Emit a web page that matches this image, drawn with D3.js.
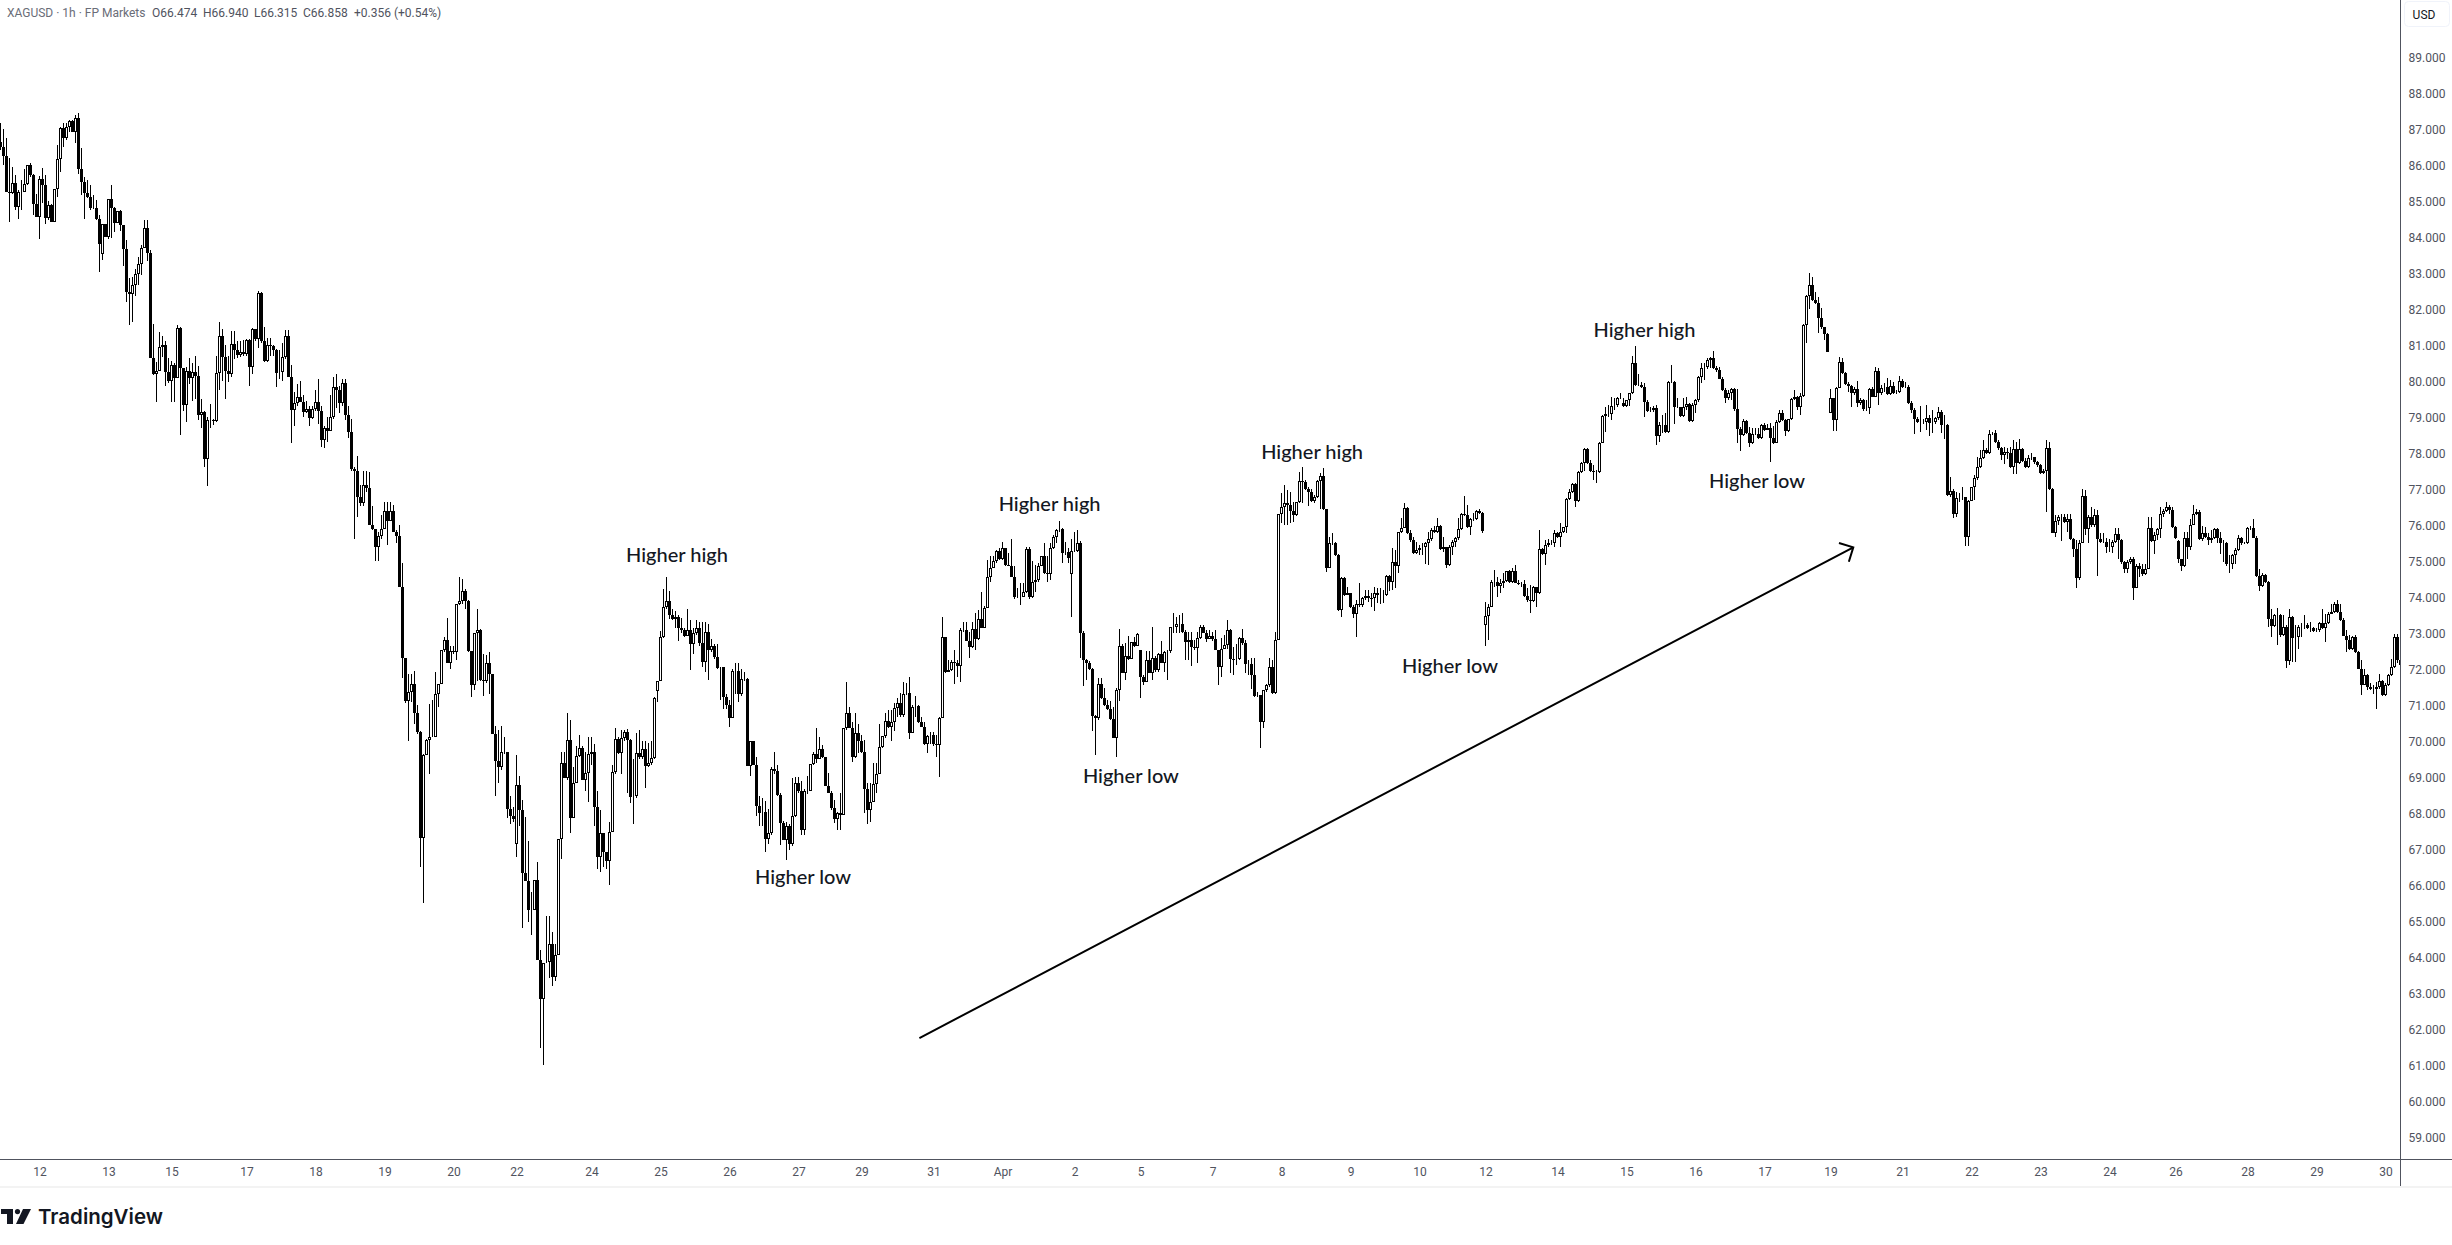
<!DOCTYPE html>
<html>
<head>
<meta charset="utf-8">
<script src="https://cdn.jsdelivr.net/npm/d3@7/dist/d3.min.js"></script>
<style>
html,body{margin:0;padding:0;background:#fff;overflow:hidden}
svg{display:block}
</style>
</head>
<body>
<svg id="chart" width="2452" height="1245"></svg>
<script>
const closes = [
86.5,86.23,85.25,85.2,85.5,84.82,85.25,85.25,85.46,85.98,
85.72,84.9,84.56,85.6,85.44,84.51,84.87,84.4,85.32,86.15,
87.01,86.74,87.06,87.2,86.92,87.29,85.88,85.53,85.21,85.1,
84.79,84.79,84.48,83.8,84.35,84.0,85.04,84.79,84.39,84.7,
84.33,83.65,82.45,82.4,82.66,82.97,83.24,83.68,84.24,83.54,
80.62,80.19,80.28,80.93,80.99,80.23,79.98,80.44,80.07,81.46,
80.35,79.33,80.28,80.07,80.25,80.12,79.05,79.14,77.82,78.91,
78.91,78.89,80.2,81.23,80.67,80.28,80.19,81.01,80.84,80.72,
80.8,80.74,81.12,80.37,81.43,81.15,82.43,81.09,80.56,80.98,
80.95,80.84,80.2,80.25,80.65,81.24,80.11,79.19,79.37,79.54,
79.42,79.14,79.2,78.96,79.2,79.42,79.17,78.36,78.68,78.6,
78.98,79.82,79.74,79.37,79.93,79.05,78.57,77.54,77.48,76.78,
76.61,77.1,77.01,75.99,75.87,75.37,75.69,75.87,76.39,76.11,
76.39,75.81,75.69,74.28,72.29,71.11,71.34,71.57,70.77,70.23,
67.3,69.61,70.02,70.1,70.1,71.29,71.58,72.52,72.8,72.16,
72.49,72.45,73.79,73.89,74.17,73.89,72.49,71.55,72.99,73.07,
71.68,71.65,72.16,71.85,70.19,69.44,69.26,69.69,69.69,68.1,
67.9,67.82,68.77,68.07,66.32,66.09,65.29,65.29,66.14,63.9,
62.83,63.83,63.86,64.34,63.44,64.06,67.28,69.39,68.97,70.02,
67.86,68.82,69.57,69.8,68.9,69.1,69.62,69.69,68.17,66.78,
67.43,66.9,66.66,67.46,69.13,70.05,69.67,70.07,70.23,70.02,
68.43,68.46,69.67,69.54,69.77,69.31,69.37,69.52,71.19,71.65,
72.88,73.71,73.89,73.5,73.38,73.45,73.14,73.07,72.9,73.07,
72.68,72.99,73.14,72.7,72.19,73.01,72.52,72.63,72.32,72.01,
72.04,71.21,70.98,70.64,71.94,71.94,71.29,71.7,71.7,69.31,
69.98,69.33,68.2,68.0,68.03,67.28,67.43,69.21,69.15,68.48,
67.72,67.25,67.64,67.14,67.91,68.82,68.61,67.53,68.61,68.61,
69.36,69.64,69.49,69.76,69.54,68.75,68.56,68.13,67.82,67.99,
67.94,70.35,70.76,70.35,69.54,70.21,70.0,69.7,68.65,68.08,
68.31,68.79,69.08,69.82,70.12,70.56,70.39,70.53,70.9,71.04,
70.72,71.3,71.32,70.21,70.93,70.97,70.53,70.39,69.9,70.13,
70.16,69.9,69.88,70.62,72.89,71.92,71.97,72.18,72.15,72.08,
73.08,73.08,72.76,72.6,73.1,72.82,73.38,73.13,73.68,74.54,
74.79,74.98,75.26,75.04,75.35,74.88,74.86,74.56,73.98,74.0,
74.0,74.14,75.32,73.98,74.42,74.45,74.86,75.12,74.65,74.63,
75.35,75.67,75.86,75.88,75.21,75.23,75.07,75.28,75.28,75.5,
72.99,72.23,72.15,71.99,70.69,70.62,71.57,71.18,71.0,70.88,
70.6,70.07,71.41,72.64,71.89,72.36,72.26,72.73,72.63,72.97,
71.78,71.62,72.25,71.89,72.29,71.95,72.41,72.17,72.45,72.48,
73.15,73.15,73.24,73.24,73.03,72.73,72.8,72.59,72.57,72.85,
73.17,73.0,72.82,72.91,72.82,72.52,72.06,72.56,72.66,73.07,
72.26,72.24,72.26,72.84,72.7,72.12,72.12,71.82,71.24,71.27,
70.53,71.41,71.55,72.06,71.32,72.81,76.29,76.5,76.61,76.55,
76.38,76.27,76.62,77.22,77.18,76.98,76.92,76.67,76.76,77.2,
77.36,76.44,74.81,75.48,75.5,75.16,73.63,74.53,74.05,74.09,
73.72,73.51,73.81,73.77,73.95,74.03,73.97,73.95,74.09,74.05,
74.05,74.05,74.57,74.4,74.97,74.85,75.79,75.92,76.45,75.76,
75.57,75.22,75.31,75.34,75.39,75.48,75.59,75.85,75.81,75.96,
75.32,75.39,74.88,75.39,75.53,75.62,75.87,76.29,76.27,75.93,
76.15,76.15,76.38,76.33,75.82,73.46,73.72,74.42,74.42,74.3,
74.37,74.44,74.7,74.42,74.7,74.39,74.35,74.35,74.02,73.91,
73.89,74.28,74.09,75.32,75.19,75.44,75.48,75.5,75.78,75.65,
75.81,75.93,76.7,76.92,77.13,76.67,77.47,77.7,78.09,77.72,
77.5,77.47,77.47,78.28,79.03,79.07,79.07,79.31,79.33,79.51,
79.51,79.3,79.46,79.65,80.48,79.88,79.88,79.83,79.42,79.17,
79.19,79.23,78.46,78.77,78.77,78.57,79.97,79.97,79.26,79.26,
79.03,79.28,79.35,78.89,79.32,79.46,80.09,80.34,80.37,80.57,
80.62,80.34,80.3,80.06,79.74,79.51,79.65,79.76,79.2,78.66,
78.49,78.89,78.54,78.28,78.52,78.52,78.4,78.77,78.63,78.68,
78.4,78.28,78.86,79.09,78.91,78.61,78.93,79.48,79.54,79.26,
79.58,81.55,82.35,82.66,82.24,82.17,81.75,81.48,81.3,80.81,
79.51,78.91,79.81,80.51,80.2,79.9,79.85,79.65,79.76,79.37,
79.46,79.2,79.23,79.76,79.56,80.28,79.65,79.81,79.83,79.63,
79.85,79.65,79.69,80.0,79.83,79.83,79.39,79.19,78.93,78.86,
78.86,78.86,78.95,78.83,78.86,78.95,79.14,78.77,78.77,76.82,
76.94,76.29,76.73,76.73,76.78,75.65,76.67,77.04,77.29,77.61,
77.84,78.07,77.98,78.52,78.56,78.31,78.12,77.93,78.03,78.0,
77.61,78.1,77.72,78.09,77.77,77.61,77.84,77.87,77.73,77.65,
77.44,77.5,78.12,76.99,75.78,76.11,76.2,76.22,76.08,76.17,
75.59,75.32,74.53,75.5,76.79,75.87,76.2,75.99,76.28,75.59,
75.52,75.52,75.39,75.39,75.52,75.74,75.57,74.95,74.78,74.97,
75.06,74.25,74.86,74.78,74.63,74.78,75.9,75.54,75.71,75.87,
76.29,76.38,76.48,76.42,75.94,75.62,75.04,74.86,75.62,75.39,
76.0,76.31,76.36,75.59,75.78,75.66,75.57,75.62,75.87,75.62,
75.48,75.48,74.92,74.92,75.15,75.29,75.62,75.48,75.48,75.9,
75.9,75.64,74.58,74.3,74.6,74.41,73.39,73.18,73.49,73.5,
72.93,73.16,72.21,73.44,72.84,72.89,73.16,73.18,73.21,73.12,
73.14,73.05,73.07,73.26,73.14,73.26,73.53,73.58,73.79,73.58,
73.35,72.91,72.81,72.55,72.89,72.47,72.0,71.56,71.82,71.5,
71.45,71.45,71.48,71.65,71.27,71.54,71.82,72.05,72.87,72.24,
72.1];

const highs = [
87.15,86.99,86.74,86.18,85.95,85.72,85.3,85.58,85.87,86.0,
86.04,85.75,85.18,85.69,85.9,85.72,85.0,84.91,85.33,86.55,
87.04,87.15,87.15,87.23,87.24,87.38,87.43,86.46,85.65,85.58,
85.44,85.16,85.02,84.6,84.35,84.35,85.05,85.44,84.82,84.72,
84.75,84.33,83.91,82.85,82.89,83.1,83.45,83.77,84.47,84.47,
83.63,81.58,80.53,81.35,81.24,81.09,80.62,80.56,80.49,81.54,
81.5,80.35,80.38,80.64,80.5,80.7,80.4,79.5,79.16,79.0,
79.35,78.95,80.7,81.62,81.45,81.0,80.7,81.38,81.38,81.1,
81.1,81.12,81.15,81.15,81.46,81.45,82.5,82.47,81.5,81.2,
81.2,81.0,80.87,80.85,81.05,81.4,81.4,80.45,79.7,79.9,
80.0,79.6,79.45,79.3,79.3,79.75,80.05,79.3,78.75,79.0,
79.6,80.1,80.2,79.85,80.05,80.05,79.3,78.95,77.6,77.9,
77.1,77.48,77.48,77.47,76.52,75.87,75.8,76.27,76.64,76.64,
76.64,76.55,75.85,76.0,74.94,72.3,71.85,71.85,71.94,71.0,
70.26,69.62,70.05,71.03,71.13,71.9,71.58,72.52,72.88,73.42,
72.63,72.63,73.81,74.55,74.48,74.22,73.91,72.49,72.99,73.66,
73.09,72.42,72.37,72.47,71.85,70.41,70.31,70.41,70.1,69.7,
68.46,68.15,69.59,69.03,68.36,67.89,67.22,65.8,66.14,66.63,
64.19,63.83,65.12,65.12,64.7,64.34,67.28,69.69,69.69,70.77,
70.57,69.28,69.85,70.16,69.85,69.7,70.1,70.1,69.9,68.61,
68.07,67.43,66.9,67.74,69.33,70.36,70.1,70.31,70.31,70.33,
70.05,69.49,70.21,70.29,70.0,70.0,69.95,70.0,71.22,71.65,
73.04,74.22,74.55,74.17,73.66,73.6,73.5,73.4,73.14,73.66,
73.35,73.14,73.35,73.3,73.3,73.3,73.24,72.83,72.68,72.68,
72.06,72.04,71.29,71.13,71.98,72.16,72.16,72.0,71.9,71.75,
70.0,70.0,69.54,68.46,68.41,68.33,68.1,69.28,69.69,69.33,
68.56,67.76,67.74,67.69,68.97,68.99,68.99,68.87,68.67,69.03,
69.36,69.69,70.36,70.1,69.87,69.56,69.1,68.59,68.36,68.03,
68.56,70.35,71.64,70.95,70.53,70.76,70.47,70.16,70.02,68.82,
68.82,69.38,69.38,70.47,70.14,70.76,70.86,70.86,71.04,71.18,
71.32,71.64,71.6,71.76,71.0,71.25,71.0,70.67,70.53,70.16,
70.25,70.25,70.16,70.67,73.45,72.89,72.25,72.25,72.52,72.25,
73.13,73.31,73.31,73.03,73.31,73.54,73.63,74.14,73.73,75.02,
75.12,75.13,75.3,75.35,75.53,75.3,75.21,75.6,74.84,74.24,
74.37,74.37,75.38,75.38,75.0,74.88,74.93,75.13,75.49,75.13,
75.49,75.72,75.87,76.11,75.9,75.53,75.35,75.6,75.81,75.86,
75.56,73.06,72.26,72.22,72.01,70.72,71.74,71.74,71.46,71.13,
71.09,70.95,71.46,73.1,72.69,72.71,72.91,72.75,72.89,73.0,
72.52,71.83,72.48,72.48,73.17,72.34,72.45,72.76,72.48,72.52,
73.17,73.54,73.45,73.5,73.54,73.08,73.03,73.03,72.8,73.03,
73.22,73.22,73.08,73.08,73.03,73.08,72.52,72.84,72.94,73.35,
73.1,72.61,72.7,72.89,73.09,72.8,72.24,72.29,72.29,71.36,
71.27,71.41,71.57,72.29,72.24,73.03,76.31,76.87,77.1,76.96,
76.92,76.64,76.64,77.47,77.59,77.24,77.05,76.98,76.82,77.24,
77.43,77.57,76.45,75.67,75.78,75.53,75.19,74.56,74.56,74.28,
74.11,73.77,73.9,74.37,74.0,74.19,74.2,74.09,74.26,74.23,
74.23,74.19,74.6,74.6,75.34,75.3,75.81,76.2,76.59,76.48,
75.85,75.67,75.53,75.44,75.48,75.53,75.81,75.9,75.96,76.18,
75.99,75.67,75.39,75.44,75.57,75.67,76.18,76.32,76.8,76.55,
76.18,76.32,76.41,76.45,76.36,73.86,73.81,74.46,74.74,74.56,
74.48,74.65,74.72,74.74,74.79,74.88,74.46,74.42,74.46,74.23,
74.32,74.3,74.28,75.85,75.34,75.57,75.59,75.57,75.85,75.81,
76.04,75.95,76.73,76.98,77.15,77.15,77.5,77.75,78.12,78.12,
77.8,77.66,77.52,78.31,79.05,79.28,79.32,79.56,79.51,79.56,
79.65,79.51,79.46,79.67,80.69,80.96,80.19,79.97,79.94,79.46,
79.28,79.3,79.32,78.86,79.05,79.09,80.0,80.45,80.0,79.51,
79.28,79.51,79.56,79.39,79.37,79.48,80.13,80.48,80.48,80.62,
80.67,80.82,80.41,80.39,80.11,79.79,79.74,79.79,79.79,79.76,
78.72,78.93,78.91,78.72,78.68,78.68,78.68,78.81,78.83,78.81,
78.83,78.74,78.91,79.2,79.2,78.95,78.95,79.51,79.74,79.57,
79.65,81.57,82.38,83.0,82.89,82.47,82.33,82.01,81.5,81.32,
79.76,79.53,79.83,80.65,80.62,80.25,79.97,79.88,79.83,80.0,
79.51,79.48,79.46,79.79,79.83,80.39,80.34,79.88,79.93,80.07,
80.02,79.97,79.74,80.13,80.06,79.97,79.88,79.44,79.23,79.0,
79.3,78.95,79.32,79.05,79.19,79.0,79.26,79.19,79.05,78.8,
77.33,76.98,76.92,76.87,77.06,76.78,76.69,77.06,77.38,77.89,
78.07,78.35,78.12,78.63,78.58,78.63,78.35,78.15,78.17,78.12,
78.17,78.35,78.3,78.37,78.12,77.84,77.93,77.98,77.89,77.77,
77.7,77.56,78.35,78.3,77.01,76.27,76.27,76.29,76.29,76.31,
76.31,75.62,75.57,75.57,76.98,76.96,76.27,76.48,76.45,76.4,
75.76,75.77,75.62,75.59,75.57,75.9,75.9,75.59,75.0,75.02,
75.09,75.11,74.92,74.94,74.92,74.92,76.22,76.22,75.8,75.9,
76.5,76.45,76.64,76.54,76.5,75.96,75.57,75.06,75.8,75.8,
76.17,76.56,76.45,76.42,75.96,75.94,75.76,75.85,75.9,75.9,
75.8,75.57,75.52,75.15,75.2,75.34,75.71,75.66,75.52,75.94,
75.96,76.15,75.68,74.78,74.66,74.63,74.44,73.67,73.53,73.7,
73.53,73.49,73.21,73.67,73.46,73.21,73.21,73.27,73.49,73.26,
73.3,73.16,73.14,73.3,73.67,73.53,73.58,73.81,73.86,73.9,
73.81,73.4,73.07,72.93,72.9,72.93,72.5,72.24,72.0,71.85,
71.59,71.54,71.64,71.85,71.7,71.61,71.85,72.28,72.96,72.96,
72.5];

const lows = [
86.4,85.98,85.25,84.42,85.2,84.73,84.48,84.75,85.25,85.45,
85.65,84.6,84.54,83.95,84.93,84.35,84.47,84.4,84.4,85.11,
85.81,86.5,86.7,86.92,86.9,86.6,85.74,85.16,84.49,85.07,
84.74,84.76,84.47,83.03,83.36,83.98,83.93,83.96,84.14,84.39,
84.17,83.19,82.2,81.55,81.63,82.34,82.66,82.94,83.68,83.33,
80.62,80.16,79.42,80.28,80.67,79.86,79.95,79.42,79.4,80.07,
78.48,79.15,78.86,79.9,79.45,79.5,78.9,78.7,77.6,77.07,
78.7,78.78,78.85,79.75,80.0,79.5,79.97,80.1,80.6,80.62,
80.65,80.7,80.7,79.86,80.2,81.1,80.9,81.05,80.53,80.53,
80.7,80.7,79.83,80.05,80.0,80.6,80.1,78.27,78.75,79.3,
79.4,79.0,79.1,78.75,78.95,79.15,78.8,78.17,78.12,78.3,
78.6,78.95,79.25,79.1,79.3,78.9,78.4,77.5,75.59,76.22,
76.53,76.53,76.9,75.99,75.85,75.0,75.0,75.6,75.87,75.45,
76.1,75.8,75.5,74.28,71.75,71.05,70.0,71.08,70.47,70.2,
66.5,65.5,69.59,69.08,70.1,70.1,70.93,71.58,72.47,72.16,
72.0,72.42,72.25,73.76,73.81,73.66,72.47,71.22,71.42,71.65,
71.65,71.24,71.6,71.29,70.19,68.46,68.82,69.2,69.64,67.84,
67.69,67.74,66.76,67.64,64.8,66.09,64.96,64.6,65.29,63.9,
61.46,61.0,63.83,63.42,63.19,63.32,64.06,66.71,68.97,68.92,
67.43,67.84,68.97,69.54,68.9,68.61,68.3,69.33,67.62,66.45,
66.35,66.5,66.45,66.0,67.46,69.08,69.64,69.08,70.0,68.56,
68.27,67.69,68.41,69.49,69.49,68.69,69.28,69.33,69.49,71.08,
71.65,72.86,73.66,73.38,73.35,73.14,72.76,72.99,72.88,73.07,
71.96,72.42,72.93,72.63,72.06,71.9,71.7,72.47,72.27,71.98,
71.13,70.88,70.88,70.39,70.62,71.29,71.08,71.24,71.65,69.31,
69.03,69.33,67.9,67.64,67.64,66.92,67.12,67.38,69.08,68.46,
67.1,67.25,66.69,66.97,67.07,67.89,68.56,67.38,67.38,68.51,
68.61,69.33,69.39,69.49,69.51,68.73,68.54,68.08,67.71,67.52,
67.52,67.94,70.3,70.35,69.42,69.51,69.65,69.65,68.0,67.68,
67.75,68.31,68.54,69.08,69.79,70.07,70.35,70.0,70.28,70.67,
70.67,70.67,71.27,70.04,70.21,70.67,70.5,70.37,69.88,69.65,
69.9,69.86,69.54,69.0,70.62,71.89,71.92,71.95,71.58,71.78,
71.62,73.03,72.76,72.29,72.57,72.52,72.8,73.13,73.13,73.68,
74.42,74.79,74.93,75.02,75.02,74.86,74.84,74.54,73.93,73.96,
73.77,73.98,74.1,73.93,73.96,74.14,74.42,74.84,74.63,74.42,
74.47,75.32,75.49,75.81,74.93,75.16,74.93,73.45,75.25,75.25,
72.29,71.52,71.69,71.97,70.26,69.6,70.58,71.15,70.97,70.86,
70.58,70.07,69.54,71.09,71.87,71.69,72.23,72.26,72.6,72.62,
71.18,71.55,71.69,71.87,71.69,71.92,71.92,72.15,71.92,71.69,
72.45,72.98,72.99,72.98,72.99,72.25,72.25,72.08,72.52,72.17,
72.82,72.99,72.75,72.85,72.78,72.52,71.55,71.78,72.56,72.56,
71.87,71.82,72.1,72.24,72.66,71.87,71.82,71.45,71.22,71.22,
69.81,70.34,71.36,71.5,71.3,71.3,72.89,76.04,75.99,75.99,
76.04,76.08,76.24,76.59,76.61,76.96,76.52,76.64,76.59,76.73,
76.43,76.41,74.69,74.79,75.44,75.13,73.61,73.44,74.02,74.05,
73.68,73.4,72.87,73.72,73.72,73.91,73.86,73.72,73.61,73.83,
73.81,73.83,74.02,74.17,74.19,74.23,74.65,75.76,75.9,75.74,
75.53,75.2,75.19,75.16,75.16,74.91,74.88,75.56,75.76,75.76,
75.3,75.25,74.81,74.85,75.16,75.39,75.57,75.85,76.24,75.9,
75.71,76.11,76.13,76.31,75.78,72.63,72.8,74.38,74.28,74.0,
74.09,74.23,74.42,74.39,74.39,74.37,74.32,74.28,73.99,73.86,
73.56,73.86,73.72,74.07,75.16,74.88,75.39,75.44,75.37,75.62,
75.37,75.76,75.78,76.68,76.89,76.5,76.64,77.44,77.5,77.7,
77.47,77.24,77.15,77.43,78.26,78.58,79.0,78.91,79.2,79.28,
79.48,79.28,79.28,79.3,79.63,79.85,79.85,79.81,79.0,79.14,
79.14,79.14,78.21,78.31,78.54,78.54,78.54,79.94,78.81,79.23,
79.0,79.0,79.19,78.86,78.86,79.11,79.42,79.93,80.02,80.32,
80.34,80.32,80.25,80.04,79.72,79.39,79.46,79.46,79.17,78.26,
78.06,78.46,78.52,78.17,78.24,78.49,78.37,78.37,78.61,78.63,
77.75,78.24,78.26,78.83,78.89,78.46,78.58,78.91,79.46,79.19,
79.05,79.56,81.04,81.98,82.22,82.13,81.33,81.45,81.13,80.81,
79.09,78.61,78.61,79.79,80.19,79.88,79.7,79.28,79.6,79.28,
79.32,79.17,79.17,79.07,79.54,79.54,79.32,79.6,79.7,79.6,
79.6,79.63,79.63,79.65,79.81,79.79,79.35,79.09,78.52,78.83,
78.58,78.81,78.63,78.46,78.54,78.81,78.91,78.54,78.37,76.8,
76.78,76.18,76.22,76.64,76.7,75.41,75.41,76.73,76.69,77.24,
77.57,77.82,77.96,77.96,78.49,78.28,78.07,77.8,77.7,77.82,
77.57,77.41,77.4,77.7,77.75,77.58,77.58,77.79,77.7,77.61,
77.42,77.42,76.36,76.96,75.76,75.65,75.99,75.55,76.05,75.8,
75.57,75.09,74.23,74.46,75.48,75.71,75.48,75.94,75.94,74.58,
75.5,75.48,75.22,75.25,75.22,75.5,75.06,74.92,74.66,74.66,
74.92,73.92,74.23,74.55,74.57,74.6,74.76,75.52,75.2,75.57,
75.62,76.22,76.36,76.31,75.92,75.59,74.94,74.72,74.83,75.06,
75.29,75.99,76.27,75.57,75.55,75.62,75.43,75.48,75.59,75.48,
75.2,74.97,74.85,74.65,74.78,74.92,75.27,75.43,75.46,75.46,
75.85,75.62,74.55,74.16,74.27,74.39,73.15,72.87,73.16,72.65,
72.89,72.9,72.02,72.1,72.19,72.19,72.56,72.89,73.09,73.09,
73.02,73.02,73.02,73.02,73.09,72.75,73.24,73.52,73.55,73.55,
73.33,72.9,72.47,72.52,72.52,72.44,71.98,71.27,71.54,71.42,
71.42,71.31,70.87,71.45,71.24,71.24,71.52,71.8,72.03,72.15,
72.0];

// Each bar opens at the prior close, except where the picture shows a gap.
const openOverrides = {0:86.62,34:83.51,172:67.14,219:71.37,357:74.63,380:72.52,495:73.21,541:79.37,610:79.09,726:75.55};

const priceTicks = d3.range(59, 90);
const xTickBars = [13,36,57,82,105,128,151,172,197,220,243,266,287,311,334,358,380,404,427,450,473,495,519,542,565,588,610,634,657,680,703,725,749,772,795];
const xTickLabels = ["12","13","15","17","18","19","20","22","24","25","26","27","29","31","Apr","2","5","7","8","9","10","12","14","15","16","17","19","21","22","23","24","26","28","29","30"];

const noteLabels = ["Higher high","Higher low","Higher high","Higher low","Higher high","Higher low","Higher high","Higher low"];
const noteBars = [225.5,267.5,349.7,376.8,437.2,483.2,548,585.5];
const notePrices = [75.19,66.25,76.59,69.04,78.06,72.11,81.45,77.23];
const arrowBars = [306.3,617.6];
const arrowPrices = [61.74,75.37];

const W = 2452, H = 1245, axisX = 2400.5, axisY = 1159.5, stripY = 1187;
const svg = d3.select("#chart");
const x = d3.scaleLinear().domain([0,800]).range([0.5,2400.5]);
const y = d3.scaleLinear().domain([59,89]).range([1136.7,56.7]);
const textCol = "#50535e";
const uiFont = "Roboto, 'Liberation Sans', sans-serif";

svg.append("rect").attr("width",W).attr("height",H).attr("fill","#fff");
svg.append("defs").append("clipPath").attr("id","pane").append("rect")
  .attr("x",0).attr("y",0).attr("width",2400).attr("height",axisY);

const bars = closes.map((c,i)=>({i, c, h:highs[i], l:lows[i],
  o: openOverrides[i] !== undefined ? openOverrides[i] : closes[i-1]}));

const pane = svg.append("g").attr("clip-path","url(#pane)").attr("shape-rendering","crispEdges");
pane.append("g").selectAll("line").data(bars).join("line")
  .attr("x1",d=>Math.floor(x(d.i))+0.5).attr("x2",d=>Math.floor(x(d.i))+0.5)
  .attr("y1",d=>y(Math.max(d.h,d.o,d.c))).attr("y2",d=>y(Math.min(d.l,d.o,d.c)))
  .attr("stroke","#000").attr("stroke-width",1);
pane.append("g").selectAll("rect").data(bars).join("rect")
  .each(function(d){
    const X = Math.floor(x(d.i));
    const top = Math.round(y(Math.max(d.o,d.c)));
    const bot = Math.max(Math.round(y(Math.min(d.o,d.c))), top+1);
    const s = d3.select(this);
    if (d.c >= d.o) {
      s.attr("x",X-0.5).attr("y",top+0.5).attr("width",2).attr("height",Math.max(bot-top-1,0))
       .attr("fill","#fff").attr("stroke","#000").attr("stroke-width",1);
    } else {
      s.attr("x",X-1).attr("y",top).attr("width",3).attr("height",bot-top).attr("fill","#000");
    }
  });

// Annotations
svg.append("g").selectAll("text").data(noteLabels).join("text")
  .attr("x",(d,i)=>x(noteBars[i])).attr("y",(d,i)=>y(notePrices[i]))
  .attr("text-anchor","middle").attr("dominant-baseline","central")
  .attr("font-family","Lato, sans-serif").attr("font-size",20).attr("font-weight",500)
  .attr("fill","#131722").text(d=>d);

const ax = x(arrowBars[0]), ay = y(arrowPrices[0]), bx = x(arrowBars[1]), by = y(arrowPrices[1]);
const ang = Math.atan2(by-ay,bx-ax), barb = 15, spread = Math.PI/4;
const arrow = d3.path();
arrow.moveTo(ax,ay); arrow.lineTo(bx,by);
arrow.moveTo(bx-barb*Math.cos(ang-spread),by-barb*Math.sin(ang-spread));
arrow.lineTo(bx,by);
arrow.lineTo(bx-barb*Math.cos(ang+spread),by-barb*Math.sin(ang+spread));
svg.append("path").attr("d",arrow.toString()).attr("fill","none").attr("stroke","#000").attr("stroke-width",2);

// Axes
const yAxis = d3.axisRight(y).tickValues(priceTicks).tickFormat(d3.format(".3f")).tickSize(0).tickPadding(8);
const yg = svg.append("g").attr("transform",`translate(${axisX},0)`).call(yAxis);
yg.select(".domain").remove();
yg.selectAll("text").attr("font-family",uiFont).attr("font-size",12).attr("fill",textCol).attr("dy","0.4em");

const xAxis = d3.axisBottom(x).tickValues(xTickBars).tickFormat((d,i)=>xTickLabels[i]).tickSize(0).tickPadding(8);
const xg = svg.append("g").attr("transform",`translate(0,${axisY})`).call(xAxis);
xg.select(".domain").remove();
xg.selectAll("text").attr("font-family",uiFont).attr("font-size",12).attr("fill",textCol);

svg.append("line").attr("x1",0).attr("x2",W).attr("y1",axisY).attr("y2",axisY).attr("stroke",textCol).attr("stroke-width",1);
svg.append("line").attr("x1",axisX).attr("x2",axisX).attr("y1",0).attr("y2",stripY).attr("stroke",textCol).attr("stroke-width",1);
svg.append("rect").attr("x",0).attr("y",stripY-1).attr("width",W).attr("height",2).attr("fill","#f3f3f3");

// Currency button
svg.append("rect").attr("x",2404.5).attr("y",1.5).attr("width",45).attr("height",25).attr("rx",4)
  .attr("fill","#fff").attr("stroke","#f0f3fa");
svg.append("text").attr("x",2424).attr("y",14.5).attr("text-anchor","middle").attr("dominant-baseline","central")
  .attr("font-family",uiFont).attr("font-size",12).attr("fill","#131722").text("USD");

// Header
const headerText = ["XAGUSD · 1h · FP Markets","O66.474","H66.940","L66.315","C66.858","+0.356 (+0.54%)"];
const headerX = [7,152,203,254,303,354];
svg.append("g").selectAll("text").data(headerText).join("text")
  .attr("x",(d,i)=>headerX[i]).attr("y",13).attr("dominant-baseline","central")
  .attr("font-family",uiFont).attr("font-size",12)
  .attr("fill",(d,i)=>i===0?"#6a6d78":"#50535e").text(d=>d);

// Logo
const logo = svg.append("g").attr("fill","#131722");
logo.append("path").attr("d","M1 1209H13V1224H7V1214H1Z");
logo.append("circle").attr("cx",17.5).attr("cy",1211.6).attr("r",2.6);
logo.append("path").attr("d","M23 1209H31L23.5 1224H16Z");
svg.append("text").attr("x",38).attr("y",1224).attr("font-family","Inter, sans-serif").attr("font-weight",600)
  .attr("font-size",20.5).attr("fill","#131722").text("TradingView");
</script>
</body>
</html>
